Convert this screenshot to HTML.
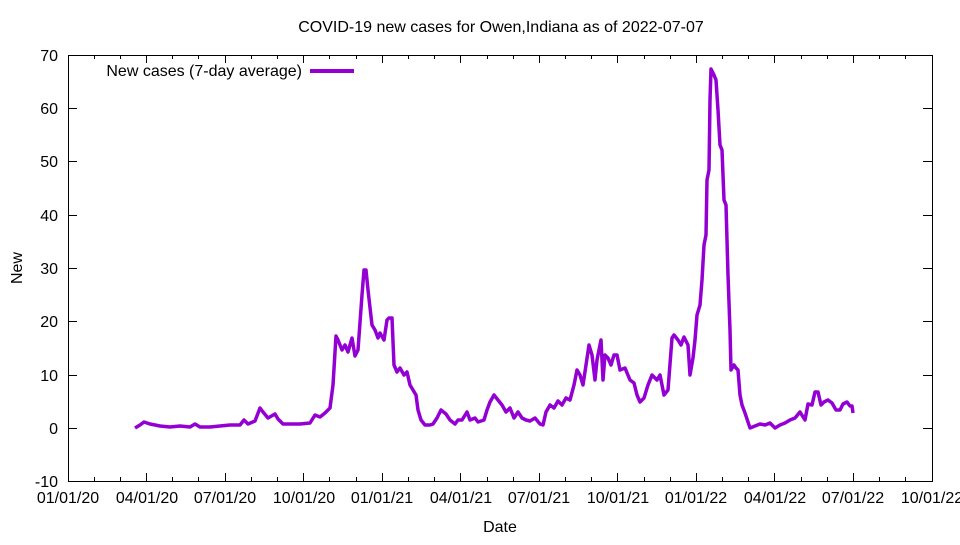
<!DOCTYPE html>
<html><head><meta charset="utf-8"><style>
body{margin:0;background:#fff}
svg text{font-family:"Liberation Sans",sans-serif;font-size:16px;fill:#000}
</style></head><body>
<svg width="960" height="540" viewBox="0 0 960 540" xmlns="http://www.w3.org/2000/svg">
<rect width="960" height="540" fill="#fff"/>
<text x="501" y="32" text-anchor="middle">COVID-19 new cases for Owen,Indiana as of 2022-07-07</text>
<g stroke="#000" stroke-width="1" fill="none">
<rect x="68.5" y="55.5" width="864" height="426"/>
<path d="M68 108.5h9M932 108.5h-9M68 161.5h9M932 161.5h-9M68 215.5h9M932 215.5h-9M68 268.5h9M932 268.5h-9M68 321.5h9M932 321.5h-9M68 375.5h9M932 375.5h-9M68 428.5h9M932 428.5h-9"/>
<path d="M146.5 481v-8M146.5 55v8M225.5 481v-8M225.5 55v8M303.5 481v-8M303.5 55v8M382.5 481v-8M382.5 55v8M460.5 481v-8M460.5 55v8M539.5 481v-8M539.5 55v8M617.5 481v-8M617.5 55v8M696.5 481v-8M696.5 55v8M774.5 481v-8M774.5 55v8M853.5 481v-8M853.5 55v8"/>
<path d="M94.5 481v-4M120.5 481v-4M172.5 481v-4M198.5 481v-4M251.5 481v-4M277.5 481v-4M329.5 481v-4M356.5 481v-4M408.5 481v-4M434.5 481v-4M487.5 481v-4M513.5 481v-4M565.5 481v-4M591.5 481v-4M644.5 481v-4M670.5 481v-4M722.5 481v-4M748.5 481v-4M801.5 481v-4M827.5 481v-4M879.5 481v-4M905.5 481v-4M94.5 55v4M120.5 55v4M172.5 55v4M198.5 55v4M251.5 55v4M277.5 55v4M329.5 55v4M356.5 55v4M408.5 55v4M434.5 55v4M487.5 55v4M513.5 55v4M565.5 55v4M591.5 55v4M644.5 55v4M670.5 55v4M722.5 55v4M748.5 55v4M801.5 55v4M827.5 55v4M879.5 55v4M905.5 55v4"/>
</g>
<g text-anchor="end">
<text x="58" y="61">70</text><text x="58" y="114">60</text><text x="58" y="167">50</text><text x="58" y="221">40</text><text x="58" y="274">30</text><text x="58" y="327">20</text><text x="58" y="381">10</text><text x="58" y="434">0</text><text x="58" y="487">-10</text>
</g>
<g text-anchor="middle">
<text x="68" y="503">01/01/20</text><text x="147" y="503">04/01/20</text><text x="225" y="503">07/01/20</text><text x="304" y="503">10/01/20</text><text x="382" y="503">01/01/21</text><text x="461" y="503">04/01/21</text><text x="539" y="503">07/01/21</text><text x="618" y="503">10/01/21</text><text x="696" y="503">01/01/22</text><text x="775" y="503">04/01/22</text><text x="853" y="503">07/01/22</text><text x="932" y="503">10/01/22</text>
<text x="500" y="532">Date</text>
<text x="22" y="268" transform="rotate(-90 22 268)">New</text>
</g>
<text x="302" y="76" text-anchor="end">New cases (7-day average)</text>
<line x1="310" y1="71" x2="354" y2="71" stroke="#9400d3" stroke-width="4"/>
<polyline fill="none" stroke="#9400d3" stroke-width="3.5" stroke-linejoin="round" points="135,428 140,425 144,422 150,424 160,426 170,427 180,426 190,427 195,424 200,427 210,427 220,426 230,425 240,425 244,420 248,424 255,421 260,408 263,412 268,418 275,414 278,419 283,424 290,424 300,424 310,423 315,415 320,417 325,413 330,408 333,385 336,336 338,340 342,350 345,345 348,352 352,338 355,356 358,350 362,295 364,270 366,270 368,290 372,325 375,330 378,338 380,333 384,340 387,320 389,318 392,318 394,365 397,372 400,368 404,375 407,372 410,385 413,390 416,395 418,410 421,420 425,425 430,425 433,424 437,418 441,410 446,414 450,420 455,424 458,420 462,420 467,412 470,420 475,418 478,422 484,420 487,410 490,402 494,395 498,400 502,405 506,412 510,408 514,418 518,412 522,418 526,420 530,421 535,418 540,424 543,425 546,412 550,405 554,408 558,401 562,405 566,398 570,400 574,385 577,370 580,375 583,385 586,365 589,345 592,355 595,380 597,360 601,340 603,380 605,355 608,358 611,365 614,355 617,355 620,370 625,368 630,380 634,383 637,395 640,402 644,398 648,385 652,375 657,380 660,375 664,395 668,390 672,338 674,335 678,340 681,345 684,337 688,345 690,375 693,358 695,340 697,315 700,305 702,280 704,245 706,235 707,180 709,170 710,100 711,69 714,75 716,80 718,110 720,145 722,150 724,200 726,205 728,275 730,330 731,370 734,365 736,368 738,370 740,395 742,405 745,413 748,422 750,428 755,426 760,424 765,425 770,423 775,428 780,425 785,423 790,420 795,418 800,412 805,420 808,404 812,405 815,392 818,392 821,405 824,402 828,400 832,403 836,410 840,410 843,404 847,402 850,406 852,406 853,413"/>
</svg>
</body></html>
